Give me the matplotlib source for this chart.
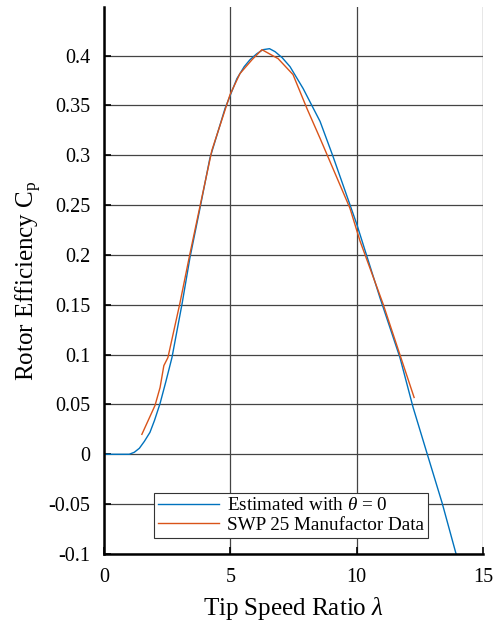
import numpy as np
import matplotlib.pyplot as plt

plt.rcParams['font.family'] = ['Liberation Serif', 'DejaVu Serif']
plt.rcParams['mathtext.fontset'] = 'custom'
plt.rcParams['mathtext.rm'] = 'Liberation Serif'
plt.rcParams['mathtext.it'] = 'Liberation Serif:italic'
plt.rcParams['axes.unicode_minus'] = False

# estimated Cp curve (theta = 0)
lam_est = [0, 0.6, 1.0, 1.2, 1.4, 1.6, 1.82, 2.0, 2.22, 2.45, 2.69, 3.09, 3.40, 3.80,
           4.19, 4.79, 5.26, 5.55, 5.78, 6.05, 6.29, 6.55, 6.77, 7.05, 7.36, 7.88,
           8.55, 9.06, 10.0, 10.92, 11.71, 12.23, 12.78, 13.38, 13.93]
cp_est = [0, 0, 0.0, 0.002, 0.006, 0.013, 0.022, 0.034, 0.051, 0.073, 0.097, 0.151,
          0.197, 0.247, 0.297, 0.347, 0.377, 0.389, 0.396, 0.402, 0.406, 0.407,
          0.404, 0.398, 0.389, 0.367, 0.334, 0.299, 0.231, 0.157, 0.097, 0.047,
          0.001, -0.049, -0.1]

# manufacturer data
lam_man = [1.50, 2.02, 2.22, 2.37, 2.53, 3.0, 3.40, 3.80, 4.27, 4.99, 5.38, 5.86,
           6.25, 6.89, 7.48, 8.03, 8.55, 9.73, 10.13, 11.04, 12.27]
cp_man = [0.020, 0.049, 0.067, 0.089, 0.097, 0.151, 0.201, 0.249, 0.305, 0.361,
          0.382, 0.396, 0.406, 0.397, 0.381, 0.347, 0.317, 0.247, 0.214, 0.151, 0.057]

fig = plt.figure(figsize=(4.95, 6.21), dpi=100)
ax = fig.add_axes([0.210, 0.108, 0.766, 0.881])

ax.plot(lam_est, cp_est, color='#0072BD', lw=1.0, label=r'Estimated with $\theta$ = 0')
ax.plot(lam_man, cp_man, color='#D95319', lw=1.0, label='SWP 25 Manufactor Data')

ax.set_xlim(0, 15)
ax.set_ylim(-0.1, 0.449)
ax.set_xticks([0, 5, 10, 15])
ax.set_yticks([-0.1, -0.05, 0, 0.05, 0.1, 0.15, 0.2, 0.25, 0.3, 0.35, 0.4])
ax.set_yticklabels(['-0.1', '-0.05', '0', '0.05', '0.1', '0.15', '0.2', '0.25',
                    '0.3', '0.35', '0.4'])
ax.grid(True, color='#444444', lw=0.9)
ax.set_axisbelow(True)
ax.tick_params(direction='in', length=5, width=1.2, labelsize=14.5, pad=10)

for s in ['top', 'right']:
    ax.spines[s].set_visible(False)
for s in ['left', 'bottom']:
    ax.spines[s].set_linewidth(1.8)

ax.set_xlabel(r'Tip Speed Ratio $\lambda$', fontsize=18, labelpad=6)
ax.set_ylabel(r'Rotor Efficiency C$_\mathrm{p}$', fontsize=18, labelpad=3)

leg = ax.legend(loc='lower left', bbox_to_anchor=(0.132, 0.03), fontsize=13.8,
                fancybox=False, framealpha=1, edgecolor='#333333',
                borderpad=0.2, labelspacing=0.1, handlelength=3.2, handletextpad=0.4,
                borderaxespad=0)
leg.get_frame().set_linewidth(0.8)

fig.savefig('out.png', dpi=100)
